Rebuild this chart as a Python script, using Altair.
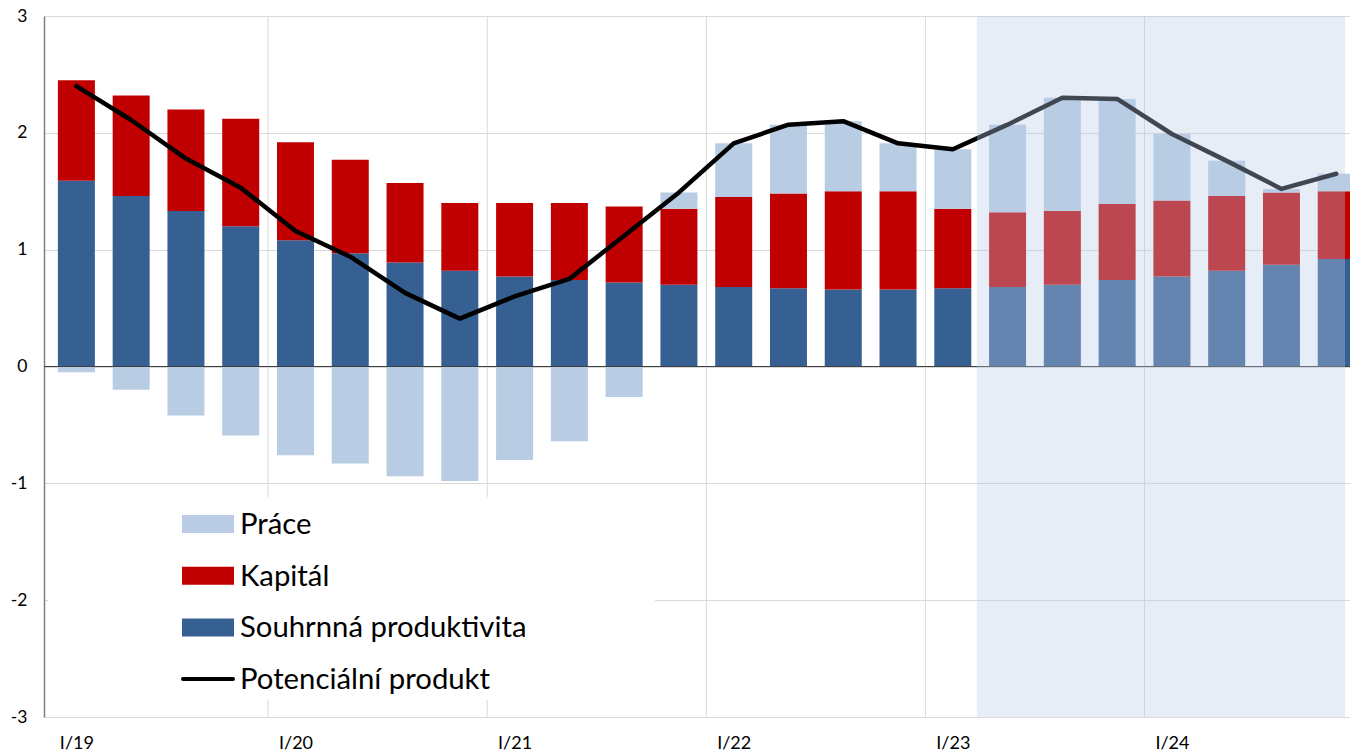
import altair as alt
import pandas as pd

# ---- data ----
quarters = ["I/19", "II/19", "III/19", "IV/19",
            "I/20", "II/20", "III/20", "IV/20",
            "I/21", "II/21", "III/21", "IV/21",
            "I/22", "II/22", "III/22", "IV/22",
            "I/23", "II/23", "III/23", "IV/23",
            "I/24", "II/24", "III/24", "IV/24"]

productivity = [1.59, 1.46, 1.33, 1.20, 1.08, 0.97, 0.89, 0.82,
                0.77, 0.74, 0.72, 0.70, 0.68, 0.67, 0.66, 0.66,
                0.67, 0.68, 0.70, 0.74, 0.77, 0.82, 0.87, 0.92]
capital = [0.86, 0.86, 0.87, 0.92, 0.84, 0.80, 0.68, 0.58,
           0.63, 0.66, 0.65, 0.65, 0.77, 0.81, 0.84, 0.84,
           0.68, 0.64, 0.63, 0.65, 0.65, 0.64, 0.62, 0.58]
labour = [-0.05, -0.20, -0.42, -0.59, -0.76, -0.83, -0.94, -0.98,
          -0.80, -0.64, -0.26, 0.14, 0.46, 0.59, 0.60, 0.41,
          0.51, 0.75, 0.97, 0.90, 0.57, 0.30, 0.03, 0.15]
potential = [2.40, 2.11, 1.78, 1.53, 1.16, 0.94, 0.63, 0.41,
             0.60, 0.75, 1.12, 1.49, 1.91, 2.07, 2.10, 1.91,
             1.86, 2.07, 2.30, 2.29, 1.99, 1.76, 1.52, 1.65]

series_names = ["Souhrnná produktivita", "Kapitál", "Práce"]
series_colors = ["#366092", "#C00000", "#B8CCE4"]
line_name = "Potenciální produkt"
legend_labels = ["Práce", "Kapitál", "Souhrnná produktivita", "Potenciální produkt"]
legend_colors = ["#B8CCE4", "#C00000", "#366092", "#000000"]
forecast_from = "II/23"
y_ticks = [-3, -2, -1, 0, 1, 2, 3]

FONT = "Lato"
X_MAX = 23.16

# ---- tables ----
rows = []
for i, q in enumerate(quarters):
    for k, (name, vals) in enumerate(zip(series_names, [productivity, capital, labour])):
        rows.append({"idx": i, "quarter": q, "series": name, "value": vals[i], "order": k})
bars_df = pd.DataFrame(rows)
line_df = pd.DataFrame({"idx": list(range(len(quarters))), "quarter": quarters, "value": potential})
year_starts = [i - 0.5 for i, q in enumerate(quarters) if q.startswith("I/") and i > 0]
vgrid_df = pd.DataFrame({"x": year_starts})
label_idx = [i for i, q in enumerate(quarters) if q.startswith("I/")]
fc_start = quarters.index(forecast_from) - 0.56
one_df = pd.DataFrame({"k": [0]})
legend_df = pd.DataFrame({"label": legend_labels, "color": legend_colors,
                          "row": list(range(len(legend_labels)))})

x_scale = alt.Scale(domain=[-0.5, X_MAX], nice=False, zero=False)
y_scale = alt.Scale(domain=[-3, 3], nice=False)

labels_js = "[" + ",".join("'" + q + "'" for q in quarters) + "]"
x_axis = alt.Axis(values=label_idx, labelExpr=labels_js + "[datum.value]", grid=False,
                  domain=False, ticks=False, title=None, labelFont=FONT, labelFontSize=18,
                  labelColor="#000000", labelPadding=26, labelBaseline="middle")
y_axis = alt.Axis(values=y_ticks, grid=True, gridColor="#D9D9D9", gridWidth=1,
                  domain=True, domainColor="#808080", domainWidth=1.5, ticks=False,
                  title=None, labelFont=FONT, labelFontSize=17.5, labelColor="#000000",
                  labelPadding=17, labelExpr="datum.value")

base_x = alt.X("idx:Q", scale=x_scale, axis=x_axis)

vgrid = alt.Chart(vgrid_df).mark_rule(color="#D9D9D9", strokeWidth=1).encode(
    x=alt.X("x:Q", scale=x_scale, axis=x_axis),
    y=alt.datum(3, scale=y_scale, axis=y_axis),
    y2=alt.datum(-3),
)

bars = alt.Chart(bars_df).transform_stack(
    stack="value", groupby=["idx"], as_=["v0", "v1"],
    sort=[alt.SortField("order", order="ascending")], offset="zero"
).mark_bar(size=37, clip=True).encode(
    x=base_x,
    y=alt.Y("v0:Q", scale=y_scale, axis=y_axis),
    y2="v1:Q",
    color=alt.Color("series:N", scale=alt.Scale(domain=series_names, range=series_colors), legend=None),
)

zero = alt.Chart(one_df).mark_rule(color="#404040", strokeWidth=1).encode(
    y=alt.datum(0, scale=y_scale),
    x=alt.value(0), x2=alt.value(1306),
)

line = alt.Chart(line_df).mark_line(color="#000000", strokeWidth=4.5, clip=True,
                                    strokeJoin="round", strokeCap="round").encode(
    x=base_x,
    y=alt.Y("value:Q", scale=y_scale, axis=y_axis),
)

overlay = alt.Chart(one_df).mark_rect(color="#B8CCE4", opacity=0.35).encode(
    x=alt.datum(fc_start, scale=x_scale),
    x2=alt.datum(X_MAX),
    y=alt.datum(3, scale=y_scale),
    y2=alt.datum(-3),
)

# ---- legend (drawn inside plot) ----
legend_box = alt.Chart(one_df).mark_rect(color="#FFFFFF").encode(
    x=alt.value(4), x2=alt.value(611), y=alt.value(481), y2=alt.value(684),
)
leg_base = alt.Chart(legend_df).transform_calculate(
    py="508 + 51.7 * datum.row", top="499 + 51.7 * datum.row", bot="517 + 51.7 * datum.row"
)
leg_sw = leg_base.transform_filter("datum.row < 3").mark_rect().encode(
    x=alt.value(138), x2=alt.value(190),
    y=alt.Y("top:Q", scale=None), y2="bot:Q",
    color=alt.Color("color:N", scale=None, legend=None),
)
leg_line = leg_base.transform_filter("datum.row == 3").mark_rule(strokeWidth=4, strokeCap="round").encode(
    x=alt.value(139), x2=alt.value(189),
    y=alt.Y("py:Q", scale=None),
    color=alt.Color("color:N", scale=None, legend=None),
)
leg_text = leg_base.mark_text(align="left", baseline="middle", font=FONT, fontSize=29.3,
                              color="#000000", dy=1).encode(
    x=alt.value(196), y=alt.Y("py:Q", scale=None), text="label:N",
)

chart = alt.layer(vgrid, bars, zero, line, overlay, legend_box, leg_sw, leg_line, leg_text).properties(
    width=1306, height=701,
    autosize=alt.AutoSizeParams(type="none"),
    padding={"left": 36, "top": 8, "right": 0, "bottom": 38},
).configure_view(stroke=None).configure(background="#FFFFFF")

chart.save("out.html", embed_options={"renderer": "svg", "actions": False})
